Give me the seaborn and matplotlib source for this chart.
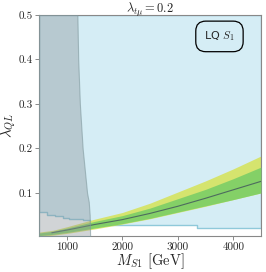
import numpy as np
import pandas as pd
import matplotlib
matplotlib.use("Agg")
import matplotlib.pyplot as plt
import seaborn as sns

# excluded region (light blue), lower edge as a step curve
excl_mass = [500, 640, 790, 930, 1040, 1290, 1420, 1700, 3350, 4500]
excl_lam = [0.057, 0.051, 0.048, 0.0445, 0.042, 0.040, 0.031, 0.028, 0.022, 0.022]

# grey excluded region on the left: right edge M(lambda)
grey_lam = [0.003, 0.05, 0.08, 0.10, 0.15, 0.20, 0.30, 0.40, 0.50]
grey_mass = [1420, 1412, 1395, 1365, 1325, 1285, 1235, 1205, 1190]

# preferred band
band_mass = [500, 750, 1000, 1500, 2000, 2500, 3000, 3500, 4000, 4500]
center = [0.0075, 0.011, 0.0165, 0.029, 0.040, 0.054, 0.070, 0.088, 0.107, 0.126]
one_sig_hi = [0.010, 0.014, 0.021, 0.036, 0.049, 0.066, 0.087, 0.108, 0.132, 0.158]
two_sig_hi = [0.012, 0.016, 0.024, 0.041, 0.056, 0.077, 0.102, 0.127, 0.154, 0.183]
one_sig_lo = [0.004, 0.007, 0.011, 0.021, 0.031, 0.043, 0.057, 0.071, 0.085, 0.100]
two_sig_lo = [0.002, 0.005, 0.009, 0.019, 0.030, 0.042, 0.056, 0.070, 0.085, 0.100]
line_mass = [730, 1000, 1500, 2000, 2500, 3000, 3500, 4000, 4500]
line_lam = [0.0105, 0.0165, 0.029, 0.040, 0.054, 0.070, 0.088, 0.107, 0.126]

sns.set_style("ticks")
plt.rcParams["font.family"] = ["cmr10", "DejaVu Sans"]
plt.rcParams["mathtext.fontset"] = "cm"
plt.rcParams["axes.unicode_minus"] = False

fig = plt.figure(figsize=(2.66, 2.72), dpi=100)
ax = fig.add_axes([0.147, 0.132, 0.834, 0.813])

ax.fill_between(excl_mass, excl_lam, 0.5, step="post", facecolor="#d5edf5",
                edgecolor="#8fc9da", lw=1.0, zorder=1)

ax.fill_between(band_mass, two_sig_lo, two_sig_hi, color="#d5e141", alpha=0.75,
                lw=0, zorder=2)
ax.fill_between(band_mass, one_sig_lo, one_sig_hi, color="#76cd66", alpha=0.85,
                lw=0, zorder=3)
df = pd.DataFrame({"M": line_mass, "lam": line_lam})
sns.lineplot(data=df, x="M", y="lam", color="#4d6b5e", lw=0.8, ax=ax, zorder=4)

ax.fill_betweenx(grey_lam, 500, grey_mass, facecolor=(0.55, 0.58, 0.6, 0.4),
                 edgecolor=(0.5, 0.6, 0.62, 0.6), lw=0.8, zorder=5)

ax.set_xlim(500, 4500)
ax.set_ylim(0.003, 0.5)
ax.set_xticks([1000, 2000, 3000, 4000])
ax.set_yticks([0.1, 0.2, 0.3, 0.4, 0.5])
ax.set_xticklabels(["1000", "2000", "3000", "4000"])
ax.set_yticklabels(["0.1", "0.2", "0.3", "0.4", "0.5"])
ax.tick_params(labelsize=8, length=3, width=0.6, color="#777777", pad=1.5)
for s in ax.spines.values():
    s.set_color("#888888")
    s.set_linewidth(0.8)

fig.text(0.564, 0.997, r"$\lambda_{t\mu} = 0.2$", fontsize=9, ha="center", va="top")
ax.set_xlabel(r"$M_{S1}$ [GeV]", fontsize=10.5, labelpad=0)
ax.set_ylabel(r"$\lambda_{QL}$", fontsize=10.5)
ax.yaxis.set_label_coords(-0.095, 0.5)

ax.text(0.813, 0.903, r"LQ $S_1$", transform=ax.transAxes, ha="center", va="center",
        fontsize=8, family="DejaVu Sans", zorder=6,
        bbox=dict(boxstyle="round,pad=0.75,rounding_size=0.9", facecolor="none",
                  edgecolor="black", lw=0.9))

fig.savefig("out.png", dpi=100)
